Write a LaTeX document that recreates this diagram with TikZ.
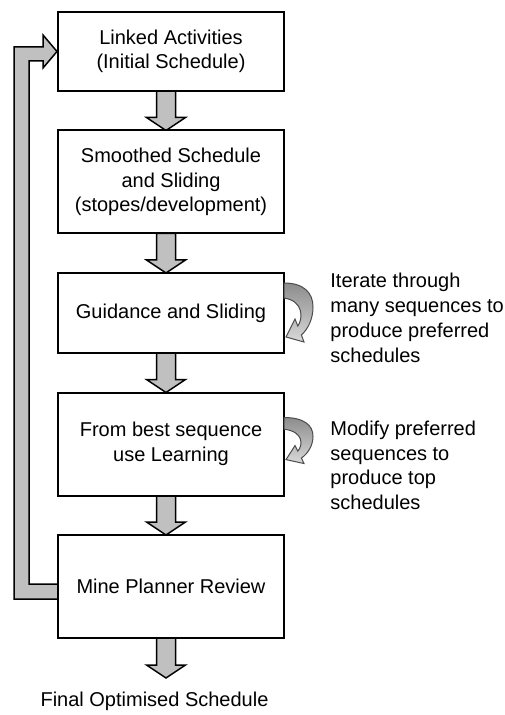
\documentclass[tikz,border=0pt]{standalone}
\usepackage{fontspec}
\setmainfont{Liberation Sans}
\usetikzlibrary{positioning,calc,backgrounds}
\definecolor{blockgray}{HTML}{C0C0C0}

% fat grey arrow straight down from one node to the next
\newcommand{\blockdown}[2]{%
	\draw[block] let \p1=($(#1.south)+(-2.5pt,0)$), \p2=(#2.north) in
		(\x1-4.75pt,\y1) -- (\x1-4.75pt,\y2+6.5pt) -- (\x1-9.75pt,\y2+6.5pt) -- (\x1,\y2)
		-- (\x1+9.75pt,\y2+6.5pt) -- (\x1+4.75pt,\y2+6.5pt) -- (\x1+4.75pt,\y1) -- cycle;}

\begin{document}
\begin{tikzpicture}[
			box/.style={draw,rectangle,line width=1pt,outer sep=0pt,fill=white,minimum width=113pt,align=center,
				font=\fontsize{10}{12.2}\selectfont},
			block/.style={draw,line width=0.75pt,fill=blockgray,line join=miter},
			looparrow/.style={draw=black!70,line width=0.5pt,top color=black!45,bottom color=black!15},
			note/.style={align=left,inner sep=0pt,font=\fontsize{10}{12.4}\selectfont},
			turnarrow/.pic={
				\path[looparrow] (0,0) .. controls (10pt,0) and (14.5pt,-5pt) .. (14.5pt,-12pt)
					.. controls (14.5pt,-18pt) and (12pt,-23pt) .. (8.7pt,-26pt) -- (10pt,-29.5pt)
					-- (1pt,-27pt) -- (5.5pt,-18pt) -- (6.9pt,-21.5pt)
					.. controls (9.5pt,-18pt) and (10pt,-9pt) .. (0,-7.5pt) -- cycle;},
			node distance=19.75pt]
			\useasboundingbox (0,0) rectangle (252pt,-357.5pt);
			\node (linked) [box,minimum height=39.5pt] at (85.5pt,-25.75pt) {Linked Activities\\(Initial Schedule)};
			\node (smooth) [box,minimum height=51.5pt,below=of linked] {Smoothed Schedule\\and Sliding\\(stopes/development)};
			\node (guide) [box,minimum height=40pt,below=of smooth] {Guidance and Sliding};
			\node (learn) [box,minimum height=51.5pt,below=of guide] {From best sequence\\use Learning};
			\node (review) [box,minimum height=51.5pt,below=of learn] {Mine Planner Review};
			\node (final) [below=20pt of review,xshift=-8.25pt,inner xsep=0pt,inner ysep=7pt,outer sep=0pt] {Final Optimised Schedule};
			\node (iterate) [note,right=23pt of guide.north east,anchor=north west] {Iterate through\\many sequences to\\produce preferred\\schedules};
			\node (modify) [note,anchor=north west] at ($(learn.north east)+(23pt,-14pt)$) {Modify preferred\\sequences to\\produce top\\schedules};
			\begin{scope}[on background layer]
				\blockdown{linked}{smooth}
				\blockdown{smooth}{guide}
				\blockdown{guide}{learn}
				\blockdown{learn}{review}
				\blockdown{review}{final}
				% feedback from the review back to the start
				\draw[block] let \p1=(review.west), \p2=(linked.west) in
					(\x1,\y1+1.25pt) -- (\x1-14.5pt,\y1+1.25pt) -- (\x1-14.5pt,\y2-4.75pt)
					-- (\x1-7.5pt,\y2-4.75pt) -- (\x1-7.5pt,\y2-8.25pt) -- (\x1-0.5pt,\y2)
					-- (\x1-7.5pt,\y2+8.25pt) -- (\x1-7.5pt,\y2+2.25pt) -- (\x1-22pt,\y2+2.25pt)
					-- (\x1-22pt,\y1-6.25pt) -- (\x1,\y1-6.25pt);
			\end{scope}
			\pic at ($(guide.north east)+(0,-5pt)$) {turnarrow};
			\pic[yscale=0.78] at ($(learn.north east)+(0,-12.5pt)$) {turnarrow};
		\end{tikzpicture}
\end{document}
